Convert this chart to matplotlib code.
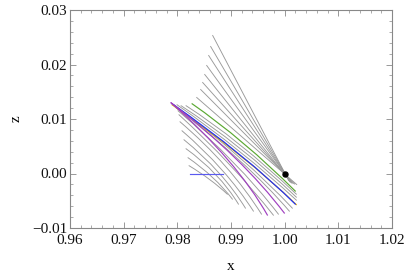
import matplotlib
matplotlib.use("Agg")
import matplotlib.pyplot as plt
from matplotlib.path import Path
from matplotlib.patches import PathPatch
from matplotlib.ticker import MultipleLocator

plt.rcParams['font.family'] = ['Liberation Serif', 'DejaVu Serif']

# straight fan lines converging on the marked point
fan_x0 = [0.98659, 0.98621, 0.98584, 0.98547, 0.98510, 0.98472, 0.98435, 0.98361]
fan_z0 = [0.02532, 0.02330, 0.02165, 0.01982, 0.01817, 0.01670, 0.01541, 0.01395]
fan_x1 = [1.00075, 1.00093, 1.00102, 1.00121, 1.00130, 1.00158, 1.00186, 1.00224]
fan_z1 = [-0.00128, -0.00147, -0.00156, -0.00165, -0.00174, -0.00184, -0.00193, -0.00202]

# curved gray lines: start, middle point, end
gray_x0 = [0.98156, 0.98063, 0.97988, 0.97932, 0.97969, 0.98007, 0.98025, 0.98044, 0.98081, 0.98118, 0.98156, 0.98193, 0.98212]
gray_z0 = [0.01248, 0.01248, 0.01266, 0.01266, 0.01211, 0.01156, 0.01083, 0.00954, 0.00789, 0.00624, 0.00459, 0.00294, 0.00147]
gray_xm = [0.99162, 0.99162, 0.99162, 0.99162, 0.99162, 0.99031, 0.98975, 0.98901, 0.98826, 0.98770, 0.98715, 0.98659, 0.98603]
gray_zm = [0.00532, 0.00468, 0.00404, 0.00294, 0.00239, 0.00220, 0.00165, 0.00128, 0.00073, 0.00018, -0.00018, -0.00073, -0.00110]
gray_x1 = [1.00224, 1.00224, 1.00224, 1.00149, 1.00093, 0.99888, 0.99795, 0.99572, 0.99422, 0.99273, 0.99143, 0.99031, 0.98938]
gray_z1 = [-0.00385, -0.00440, -0.00495, -0.00642, -0.00697, -0.00752, -0.00771, -0.00752, -0.00697, -0.00642, -0.00569, -0.00477, -0.00385]

# coloured curves: start, middle point, end
col_names = ['yellow', 'blue', 'green', 'purple1', 'purple2']
col_colors = ['#e0b000', '#1a2cff', '#5aa832', '#a040c0', '#a040c0']
col_x0 = [0.97895, 0.97895, 0.98267, 0.97876, 0.97876]
col_z0 = [0.01266, 0.01285, 0.01285, 0.01303, 0.01303]
col_xm = [0.99162, 0.99162, 0.99236, 0.99069, 0.98938]
col_zm = [0.00339, 0.00349, 0.00551, 0.00294, 0.00257]
col_x1 = [1.00224, 1.00205, 1.00205, 1.00000, 0.99683]
col_z1 = [-0.00578, -0.00569, -0.00330, -0.00734, -0.00771]

seg_x = [0.9823, 0.9885]
seg_z = [0.0, 0.0]
point_x = [1.0]
point_z = [0.0]


def curve(ax, x0, z0, xm, zm, x1, z1, color, lw, zorder):
    # quadratic Bezier through the middle point
    cx = 2 * xm - (x0 + x1) / 2
    cz = 2 * zm - (z0 + z1) / 2
    p = Path([(x0, z0), (cx, cz), (x1, z1)], [Path.MOVETO, Path.CURVE3, Path.CURVE3])
    ax.add_patch(PathPatch(p, fill=False, edgecolor=color, lw=lw, zorder=zorder))


fig = plt.figure(figsize=(4.07, 2.75), dpi=100)
ax = fig.add_axes([70 / 407, 1 - 228 / 275, 322 / 407, 218 / 275])

for i in range(len(fan_x0)):
    ax.plot([fan_x0[i], fan_x1[i]], [fan_z0[i], fan_z1[i]], color='#999999', lw=0.65, zorder=2)

for i in range(len(gray_x0)):
    curve(ax, gray_x0[i], gray_z0[i], gray_xm[i], gray_zm[i], gray_x1[i], gray_z1[i], '#999999', 0.65, 2)

for i in range(len(col_names)):
    curve(ax, col_x0[i], col_z0[i], col_xm[i], col_zm[i], col_x1[i], col_z1[i], col_colors[i], 0.85, 3)

ax.plot(seg_x, seg_z, color='#5a5af0', lw=0.85, zorder=3)
ax.plot(point_x, point_z, 'o', color='black', ms=3.6, zorder=4)

ax.set_xlim(0.96, 1.02)
ax.set_ylim(-0.01, 0.03)
ax.xaxis.set_major_locator(MultipleLocator(0.01))
ax.xaxis.set_minor_locator(MultipleLocator(0.002))
ax.yaxis.set_major_locator(MultipleLocator(0.01))
ax.yaxis.set_minor_locator(MultipleLocator(0.002))
ax.xaxis.set_major_formatter(plt.FuncFormatter(lambda v, p: f'{v:.2f}'.replace('-', '\u2212')))
ax.yaxis.set_major_formatter(plt.FuncFormatter(lambda v, p: f'{v:.2f}'.replace('-', '\u2212')))
ax.tick_params(which='both', direction='in', top=True, right=True, color='#888888',
               labelsize=11, labelcolor='#111111')
ax.tick_params(axis='x', pad=4)
ax.tick_params(axis='y', pad=2)
ax.tick_params(which='major', length=4, width=0.6)
ax.tick_params(which='minor', length=2, width=0.5)
for s in ax.spines.values():
    s.set_color('#888888')
    s.set_linewidth(0.8)

ax.set_xlabel('x', fontsize=11, labelpad=10)
ax.set_ylabel('z', fontsize=11, labelpad=7)

fig.savefig('out.png', dpi=100)
